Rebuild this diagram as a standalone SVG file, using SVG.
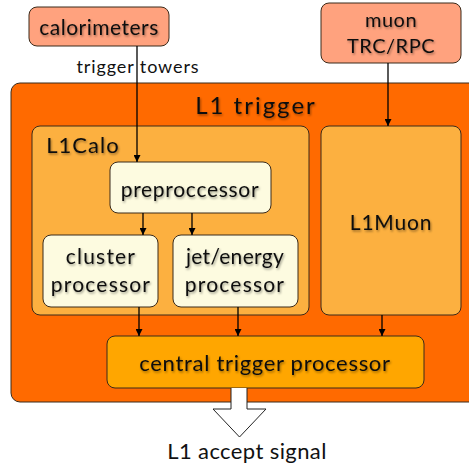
<svg xmlns="http://www.w3.org/2000/svg" width="469" height="468" viewBox="0 0 469 468">
<defs>
<marker id="ah" viewBox="0 0 10 10" refX="10" refY="5" markerWidth="7" markerHeight="7" markerUnits="userSpaceOnUse" orient="auto">
<path d="M0,0 L10,5 L0,10 z" fill="#000"/>
</marker>
<filter id="sh" x="-10%" y="-20%" width="130%" height="150%">
<feDropShadow dx="1" dy="1.5" stdDeviation="1" flood-color="#000" flood-opacity="0.4"/>
</filter>
</defs>
<style>
text{font-family:Lato,"Liberation Sans",sans-serif;fill:#111;text-anchor:middle}
.t{filter:url(#sh)}
.box{stroke:#3a2a1a;stroke-width:1}
.line{stroke:#000;stroke-width:1.3;fill:none;marker-end:url(#ah)}
</style>
<rect width="469" height="468" fill="#fff"/>
<g id="l1trigger">
<rect class="box" x="11" y="83" width="470" height="319" rx="9" fill="#FF6A00"/>
<text class="t" x="256" y="114" font-size="24" letter-spacing="2">L1 trigger</text>
</g>
<g id="l1calo">
<rect class="box" x="32" y="126" width="277" height="189" rx="8" fill="#FCB040"/>
<text class="t" x="83" y="153" font-size="22" letter-spacing="1">L1Calo</text>
</g>
<g id="l1muon">
<rect class="box" x="321" y="126" width="140" height="189" rx="8" fill="#FCB040"/>
<text class="t" x="391" y="230" font-size="21" letter-spacing="0.8">L1Muon</text>
</g>
<g id="calorimeters">
<rect class="box" x="29" y="7" width="140" height="39" rx="8" fill="#FFA27E"/>
<text class="t" x="99" y="35" font-size="21" letter-spacing="0.5">calorimeters</text>
</g>
<g id="muon">
<rect class="box" x="321" y="3" width="140" height="60" rx="8" fill="#FFA27E"/>
<text class="t" x="391" y="27" font-size="20" letter-spacing="0.5">muon</text>
<text class="t" x="391" y="53" font-size="20" letter-spacing="0.5">TRC/RPC</text>
</g>
<g id="preprocessor">
<rect class="box" x="110" y="162" width="161" height="51" rx="8" fill="#FDFBE0"/>
<text class="t" x="190" y="197" font-size="21" letter-spacing="0.7">preproccessor</text>
</g>
<g id="cluster">
<rect class="box" x="43" y="235" width="115" height="72" rx="8" fill="#FDFBE0"/>
<text class="t" x="101" y="264" font-size="21" letter-spacing="1.2">cluster</text>
<text class="t" x="101" y="292" font-size="21" letter-spacing="1.2">processor</text>
</g>
<g id="jetenergy">
<rect class="box" x="173" y="235" width="125" height="72" rx="8" fill="#FDFBE0"/>
<text class="t" x="235" y="264" font-size="21" letter-spacing="0.3">jet/energy</text>
<text class="t" x="235" y="292" font-size="21" letter-spacing="1.2">processor</text>
</g>
<g id="ctp">
<rect class="box" x="107" y="336" width="317" height="52" rx="8" fill="#FFA600"/>
<text class="t" x="265" y="371" font-size="22" letter-spacing="0.7">central trigger processor</text>
</g>
<g id="connectors">
<line class="line" x1="137" y1="46" x2="137" y2="162"/>
<line class="line" x1="388" y1="63" x2="388" y2="126"/>
<line class="line" x1="143" y1="213" x2="143" y2="235"/>
<line class="line" x1="192" y1="213" x2="192" y2="235"/>
<line class="line" x1="139" y1="307" x2="139" y2="336"/>
<line class="line" x1="238" y1="307" x2="238" y2="336"/>
<line class="line" x1="382" y1="315" x2="382" y2="336"/>
<path d="M231,388 V409 H213 L239.5,437 L266,409 H247 V388" fill="#fff" stroke="#222" stroke-width="1"/>
</g>
<text x="138" y="73" font-size="18" letter-spacing="0.9">trigger towers</text>
<text x="247" y="459" font-size="22" letter-spacing="0.4">L1 accept signal</text>
</svg>
